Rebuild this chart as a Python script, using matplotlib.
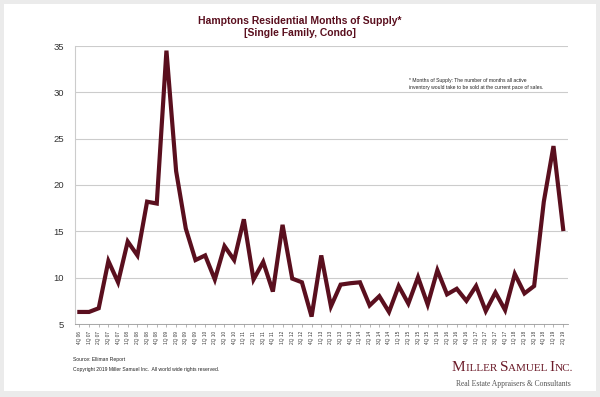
import numpy as np
import matplotlib
matplotlib.use('Agg')
import matplotlib.pyplot as plt
from matplotlib.patches import Rectangle

# quarterly months of supply, 4Q06 .. 2Q19
quarters = ['4Q 06',
            '1Q 07', '2Q 07', '3Q 07', '4Q 07',
            '1Q 08', '2Q 08', '3Q 08', '4Q 08',
            '1Q 09', '2Q 09', '3Q 09', '4Q 09',
            '1Q 10', '2Q 10', '3Q 10', '4Q 10',
            '1Q 11', '2Q 11', '3Q 11', '4Q 11',
            '1Q 12', '2Q 12', '3Q 12', '4Q 12',
            '1Q 13', '2Q 13', '3Q 13', '4Q 13',
            '1Q 14', '2Q 14', '3Q 14', '4Q 14',
            '1Q 15', '2Q 15', '3Q 15', '4Q 15',
            '1Q 16', '2Q 16', '3Q 16', '4Q 16',
            '1Q 17', '2Q 17', '3Q 17', '4Q 17',
            '1Q 18', '2Q 18', '3Q 18', '4Q 18',
            '1Q 19', '2Q 19']
months_supply = [6.3,
                 6.3, 6.7, 11.8, 9.5,
                 13.9, 12.4, 18.2, 18.0,
                 34.5, 21.5, 15.3, 11.9,
                 12.4, 9.8, 13.4, 11.9,
                 16.3, 9.8, 11.7, 8.5,
                 15.7, 9.9, 9.5, 5.8,
                 12.4, 6.9, 9.25, 9.4,
                 9.5, 7.0, 8.0, 6.3,
                 9.1, 7.2, 10.05, 7.1,
                 10.8, 8.2, 8.8, 7.5,
                 9.1, 6.4, 8.4, 6.5,
                 10.4, 8.3, 9.1, 18.2,
                 24.2, 15.25]
y_ticks = [5, 10, 15, 20, 25, 30, 35]

maroon = '#5a0f1e'

fig = plt.figure(figsize=(6.0, 3.97), dpi=100)
fig.patch.set_facecolor('#ebebeb')
fig.patches.append(Rectangle((4 / 600, 1 - 391 / 397), 592 / 600, 387 / 397,
                             transform=fig.transFigure, facecolor='white',
                             edgecolor='none', zorder=-10))

ax = fig.add_axes([75 / 600, 1 - 324 / 397, 493 / 600, 278 / 397])
ax.set_facecolor('none')
ax.set_zorder(5)

x = np.arange(len(quarters))
ax.plot(x, months_supply, color=maroon, linewidth=3, solid_joinstyle='miter', zorder=3)

ax.set_xlim(-0.45, len(quarters) - 0.5)
ax.set_ylim(5, 35)
ax.set_yticks(y_ticks)
ax.set_yticklabels([str(v) for v in y_ticks], fontsize=6.8, color='#333333',
                   family='Liberation Sans')
ax.tick_params(axis='y', length=0, pad=8)
ax.grid(axis='y', color='#cccccc', linewidth=0.8)
ax.set_axisbelow(True)

ax.set_xticks(x)
ax.set_xticklabels(quarters, rotation=90, fontsize=3.4, color='#333333',
                   family='Liberation Sans')
ax.tick_params(axis='x', length=2, width=0.5, color='#999999', pad=3)

for side in ['top', 'right']:
    ax.spines[side].set_visible(False)
ax.spines['left'].set_color('#cccccc')
ax.spines['left'].set_linewidth(0.8)
ax.spines['bottom'].set_color('#999999')
ax.spines['bottom'].set_linewidth(0.6)

fig.text(0.5, 1 - 27 / 397, 'Hamptons Residential Months of Supply*\n[Single Family, Condo]',
         ha='center', va='center', fontsize=7.5, fontweight='bold', color=maroon,
         family='Liberation Sans', linespacing=1.3)

fig.text(409 / 600, 1 - 84 / 397,
         '* Months of Supply: The number of months all active\n'
         'inventory would take to be sold at the current pace of sales.',
         ha='left', va='center', fontsize=3.6, color='#222222',
         family='Liberation Sans', linespacing=1.3)

fig.text(73 / 600, 1 - 360 / 397, 'Source: Elliman Report', ha='left', va='center',
         fontsize=3.6, color='#222222', family='Liberation Sans')
fig.text(73 / 600, 1 - 370 / 397,
         'Copyright 2019 Miller Samuel Inc.  All world wide rights reserved.',
         ha='left', va='center', fontsize=3.6, color='#222222', family='Liberation Sans')

# logo in small caps: big initials, smaller rest, laid out left to right
logo_parts = [('M', 11), ('ILLER ', 8), ('S', 11), ('AMUEL ', 8), ('I', 11), ('NC.', 8)]
renderer = fig.canvas.get_renderer()
x_px = 452
for part, size in logo_parts:
    t = fig.text(x_px / 600, 1 - 371 / 397, part, ha='left', va='baseline',
                 fontsize=size, color='#6b1a28', family='Liberation Serif')
    x_px += t.get_window_extent(renderer).width
fig.text(571 / 600, 1 - 384 / 397, 'Real Estate Appraisers & Consultants', ha='right',
         va='center', fontsize=5.5, color='#555555', family='Liberation Serif')

plt.savefig('out.png', dpi=100, facecolor=fig.get_facecolor())
plt.close('all')
